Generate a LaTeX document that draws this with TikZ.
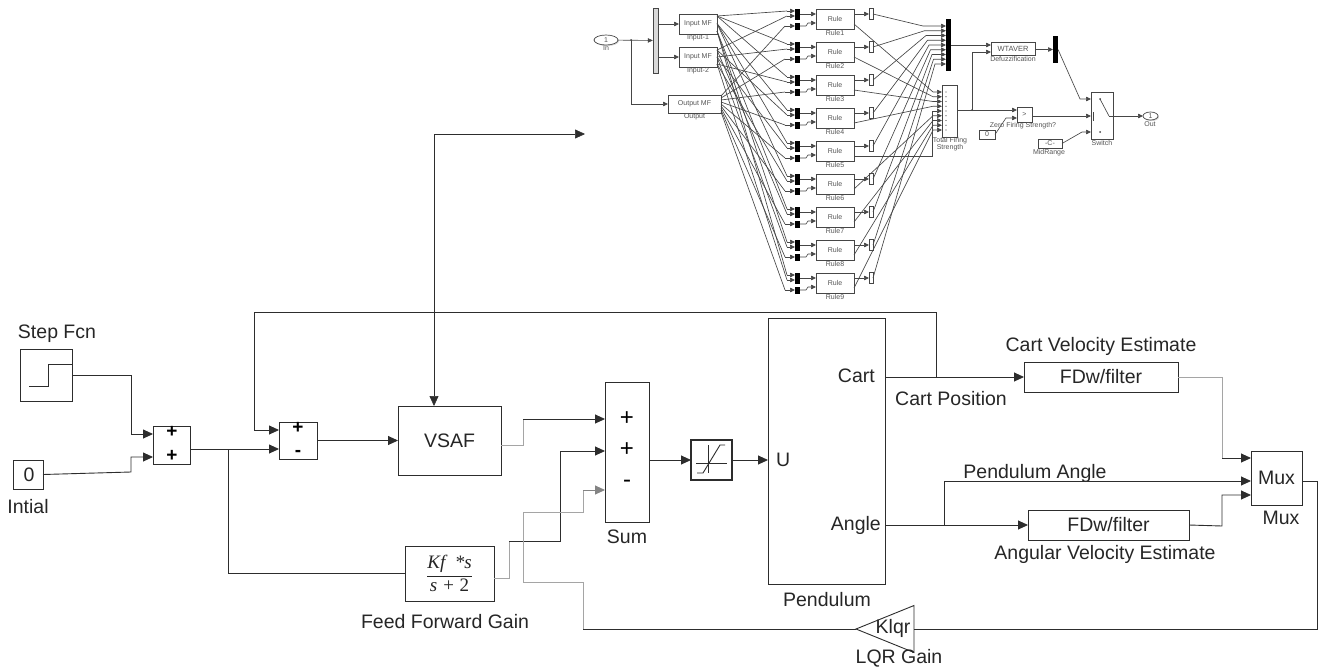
\documentclass[tikz,border=0pt]{standalone}
\usepackage{fontspec}
\setmainfont{Liberation Sans}
\newfontfamily\fracfont{Liberation Serif}
\usepackage{xcolor}
\usetikzlibrary{arrows.meta, shapes.geometric, shadows}
\definecolor{lineDark}{RGB}{45,45,45}
\definecolor{lineFaint}{RGB}{165,165,165}
\definecolor{fuzzyLine}{RGB}{70,70,70}
\definecolor{fuzzyText}{RGB}{85,85,85}

\begin{document}
\begin{tikzpicture}[
    x=1pt, y=-1pt,
    wh/.style 2 args={minimum width=#1pt, minimum height=#2pt},
    block/.style={rectangle, draw=lineDark, line width=0.9pt, fill=white, inner sep=0pt, outer sep=0pt, align=center, text=black!85, font=\fontsize{19.5}{22}\selectfont},
    caption/.style={inner sep=0pt, align=center, text=black!85, font=\fontsize{19.5}{22}\selectfont},
    signmark/.style={inner sep=0pt, font=\fontsize{19}{20}\selectfont\bfseries},
    arrow/.style={-{Triangle[length=10pt, width=9pt]}, line width=0.9pt, draw=lineDark},
    wire/.style={line width=0.9pt, draw=lineDark},
    faint/.style={line width=0.8pt, draw=lineFaint},
    % fuzzy subsystem
    fblock/.style={rectangle, draw=fuzzyLine, line width=0.7pt, fill=white, inner sep=0pt, outer sep=0pt, align=center, text=fuzzyText, font=\fontsize{7}{8}\selectfont, drop shadow={opacity=0.35, shadow xshift=1pt, shadow yshift=-1pt}},
    flabel/.style={inner sep=0pt, align=center, text=fuzzyText, font=\fontsize{7}{7.5}\selectfont},
    fbar/.style={rectangle, fill=black, inner sep=0pt, outer sep=0pt},
    farrow/.style={-{Triangle[length=5pt, width=4.5pt]}, line width=0.65pt, draw=fuzzyLine},
    fwire/.style={line width=0.65pt, draw=fuzzyLine}
]
    \useasboundingbox (0,0) rectangle (1328,672);

    % Fuzzy subsystem - inputs
    \node[fblock, ellipse, wh={24}{10}] (inport) at (606,40) {1};
    \node[flabel] (inlabel) at (606,48) {In};
    \node[rectangle, draw=fuzzyLine, fill=black!15, inner sep=0pt, wh={5}{65}] (inmux) at (655.5,40.5) {};
    \node[fblock, wh={38}{20}] (inputA) at (698,24) {Input MF};
    \node[flabel] (inputAlabel) at (698,38) {Input-1};
    \node[fblock, wh={38}{20}] (inputB) at (698,57) {Input MF};
    \node[flabel] (inputBlabel) at (698,71) {Input-2};
    \node[fblock, wh={53}{18}] (outputmf) at (694.5,104) {Output MF};
    \node[flabel] (outputlabel) at (694.5,117) {Output};
    \coordinate (injoin) at (631,40);
    \draw[farrow] (inport) -- (inmux);
    \draw[farrow] (injoin) |- (outputmf);
    \fill[fuzzyLine] (injoin) circle (1pt);
    \draw[farrow] (inmux.east |- inputA) -- (inputA);
    \draw[farrow] (inmux.east |- inputB) -- (inputB);

    % Fuzzy subsystem - collecting blocks
    \node[fbar, wh={5}{52}] (rulemux) at (948.5,45) {};
    \node[fblock, wh={15}{52}] (firing) at (949.5,111) {};
    \node[flabel] (firinglabel) at (950,144) {Total Firing\\Strength};
    \foreach \j in {1,...,3} {
        \coordinate (portA\j) at (717,{16+7.5*(\j-1)});
        \coordinate (portB\j) at (717,{50+7*(\j-1)});
    }

    % Fuzzy subsystem - rules
    \foreach \i in {1,...,9} {
        \pgfmathsetmacro{\ry}{19+33*(\i-1)}
        \pgfmathtruncatemacro{\ja}{int((\i-1)/3)+1}
        \pgfmathtruncatemacro{\jb}{mod(\i-1,3)+1}
        \node[fblock, wh={38}{20}] (rule\i) at (835,\ry) {Rule};
        \node[flabel] (rule\i label) at (835,\ry+14) {Rule\i};
        \node[fbar, wh={5}{11}] (muxA\i) at (797.5,\ry-4.5) {};
        \node[fbar, wh={5}{7}] (muxB\i) at (797.5,\ry+7) {};
        \node[draw=fuzzyLine, line width=0.5pt, fill=white, inner sep=0pt, outer sep=0pt, wh={4}{11}] (tap\i) at (871,\ry-5) {};
        \coordinate (ruleinA\i) at (816,\ry-5);
        \coordinate (ruleinB\i) at (816,\ry+4);
        \coordinate (ruleoutA\i) at (854,\ry-5);
        \coordinate (ruleoutB\i) at (854,\ry+5);
        % antecedents and consequent
        \draw[fwire] (portA\ja) -- (787,\ry-8);
        \draw[farrow] (787,\ry-8) -- (muxA\i.west |- 787,\ry-8);
        \draw[fwire] (portB\jb) -- (787,\ry-3);
        \draw[farrow] (787,\ry-3) -- (muxA\i.west |- 787,\ry-3);
        \draw[fwire] (721,{96+2*(\i-1)}) -- (785,\ry+7);
        \draw[farrow] (785,\ry+7) -- (muxB\i);
        \draw[farrow] (muxA\i.east |- ruleinA\i) -- (ruleinA\i);
        \draw[farrow] (muxB\i.east) -- ++(6,0) -- (808,\ry+4) -- (ruleinB\i);
        \draw[farrow] (ruleoutA\i) -- (tap\i);
        % towards the collecting blocks
        \draw[farrow] (tap\i.east) -- ({923+1.5*(\i-1)},{26+4.75*(\i-1)}) -- (946,{26+4.75*(\i-1)});
        \fill[fuzzyLine] (946,{92+4.75*(\i-1)}) circle (0.6pt);
        \ifnum\i=5
            \draw[farrow] (854,156) -| (932,111) -- (942,111);
        \else
            \draw[farrow] (ruleoutB\i) -- (933,{92+4.75*(\i-1)}) -- (942,{92+4.75*(\i-1)});
        \fi
    }

    % Fuzzy subsystem - output side
    \node[fblock, wh={44}{13}, font=\fontsize{7.5}{8}\selectfont] (wtaver) at (1013,48.5) {WTAVER};
    \node[flabel] (wtaverlabel) at (1013,59) {Defuzzification};
    \node[fbar, wh={5}{27}] (outmux) at (1055.5,49.5) {};
    \node[fblock, wh={15}{15}] (compare) at (1024.5,114.5) {>};
    \node[flabel] (comparelabel) at (1023,126) {Zero Firing Strength?};
    \node[fblock, wh={16}{9}] (zeroconst) at (987,134.5) {0};
    \node[fblock, wh={24}{9}] (midrange) at (1050,143.5) {-C-};
    \node[flabel] (midrangelabel) at (1049,153) {MidRange};
    \node[fblock, wh={22}{47}] (switch) at (1102,115.5) {};
    \node[flabel] (switchlabel) at (1102,143) {Switch};
    \node[fblock, ellipse, wh={15}{8}] (outport) at (1150.5,116) {1};
    \node[flabel] (outlabel) at (1150,124) {Out};
    \coordinate (firingjoin) at (972,110);
    \draw[farrow] (rulemux.east) -- (wtaver.west |- rulemux.east);
    \draw[fwire] (firing.east |- firingjoin) -- (firingjoin);
    \fill[fuzzyLine] (firingjoin) circle (1pt);
    \draw[farrow] (firingjoin) |- (wtaver.west |- 972,52);
    \draw[farrow] (firingjoin) -- (compare.west |- firingjoin);
    \draw[farrow] (zeroconst.east) -- (1006,118) -- (compare.west |- 1006,118);
    \draw[farrow] (wtaver.east |- outmux) -- (outmux);
    \draw[farrow] (outmux.east) -- (1080,99) -- (switch.west |- 1080,99);
    \draw[farrow] (compare.east |- 1032,116) -- (switch.west |- 1032,116);
    \draw[farrow] (midrange.east) -- (1082,132) -- (switch.west |- 1082,132);
    \draw[fwire] (1093,112) -- (1093,121);
    \fill[fuzzyLine] (1100,99) circle (1pt) (1100,132) circle (1pt);
    \draw[fwire] (1100,99) -- (1109,116);
    \draw[farrow] (1109,116) -- (outport);

    % Source blocks
    \node[block, wh={52}{52}] (stepfcn) at (46,375) {};
    \node[caption] (stepfcnlabel) at (57,334) {Step Fcn};
    \draw[wire] (29,386) -- (48,386) -- (48,364) -- (stepfcn.east |- 48,364);
    \node[block, wh={30}{29}] (initial) at (28,474.5) {\hspace*{2pt}0};
    \node[caption] (initiallabel) at (28,507) {Intial};

    % Summing blocks
    \node[block, wh={37.5}{38}] (sumA) at (172,445) {};
    \node[signmark] (sumAplusA) at (172,432) {+};
    \node[signmark] (sumAplusB) at (172,456) {+};
    \node[block, wh={38}{37}] (sumB) at (298,440.5) {};
    \node[signmark] (sumBplus) at (298,428) {+};
    \node[signmark] (sumBminus) at (298,453) {-};
    \node[block, wh={44}{140}] (sumC) at (627,452) {};
    \node[signmark, font=\fontsize{24}{24}\selectfont] (sumCplusA) at (627,419) {+};
    \node[signmark, font=\fontsize{24}{24}\selectfont] (sumCplusB) at (627,450) {+};
    \node[signmark, font=\fontsize{24}{24}\selectfont] (sumCminus) at (627,484) {-};
    \node[caption] (sumlabel) at (627,537) {Sum};

    % Forward path
    \node[block, wh={103}{69}] (vsaf) at (449.5,440.5) {VSAF};
    \node[block, wh={89}{55}] (feedforward) at (449.5,573.5) {\fontsize{19}{22}\selectfont$\displaystyle\frac{\hbox{\fracfont\itshape Kf\ \ *s}}{\hbox{\fracfont\itshape s + \upshape 2}}$};
    \node[caption] (feedforwardlabel) at (445,622) {Feed Forward Gain};
    \node[block, line width=1.5pt, wh={41}{40}] (saturation) at (711.5,460) {};
    \draw[wire] (697,473) -- (703,473) -- (720,445) -- (725,445);
    \draw[wire] (696,463) -- (727,463);
    \draw[wire] (708,445) -- (708,473);
    \node[block, wh={117}{266}] (pendulum) at (826.5,451) {};
    \node[caption] (pendulumlabel) at (827,600) {Pendulum};
    \node[caption, anchor=west] (ulabel) at (776,460) {U};
    \node[caption, anchor=east] (cartlabel) at (875,376) {Cart};
    \node[caption, anchor=east] (anglelabel) at (881,525) {Angle};

    % Estimators and feedback
    \node[block, wh={154}{30}] (filterA) at (1101,377) {FDw/filter};
    \node[caption] (filterAlabel) at (1101,346) {Cart Velocity Estimate};
    \node[caption] (cartposlabel) at (951,399) {Cart Position};
    \node[block, wh={161}{30}] (filterB) at (1108.5,525) {FDw/filter};
    \node[caption] (filterBlabel) at (1105,554) {Angular Velocity Estimate};
    \node[caption] (anglepathlabel) at (1035,473) {Pendulum Angle};
    \node[block, wh={51}{54}] (mux) at (1276.5,478) {Mux};
    \node[caption] (muxlabel) at (1281,518) {Mux};
    \node[block, isosceles triangle, shape border rotate=180, isosceles triangle apex angle=78, isosceles triangle stretches, wh={47}{58}, anchor=apex] (klqr) at (856,629) {};
    \node[caption] (klqrtext) at (893,628) {Klqr};
    \node[caption] (lqrlabel) at (899,658) {LQR Gain};

    % Named corners
    \coordinate (sumAinA) at (153,434);
    \coordinate (sumAinB) at (153,457);
    \coordinate (sumBinA) at (279,430);
    \coordinate (sumBinB) at (279,449);
    \coordinate (branchref) at (228,449);
    \coordinate (vsaftop) at (434,406);
    \coordinate (fuzzyend) at (585,134);
    \coordinate (sumCinA) at (605,419);
    \coordinate (sumCinB) at (605,451);
    \coordinate (sumCinC) at (605,490);
    \coordinate (cartref) at (936,377);
    \coordinate (angleref) at (944,525);
    \coordinate (muxinA) at (1251,458);
    \coordinate (muxinB) at (1251,481);
    \coordinate (muxinC) at (1251,495);

    % Arrows - sources to first sum
    \draw[arrow] (stepfcn.east) -- (131,375) |- (sumAinA);
    \draw[arrow] (initial.east) -- (131,472) -- (131,457) -- (sumAinB);

    % Arrows - reference and cart position feedback
    \draw[arrow] (sumA.east |- sumBinB) -- (sumBinB);
    \draw[wire] (branchref) |- (feedforward.west);
    \draw[arrow] (cartref) -- (936,312) -- (254,312) |- (sumBinA);
    \draw[arrow] (sumB.east) -- (vsaf.west);

    % Arrows - VSAF and fuzzy tuner
    \draw[{Triangle[length=10pt, width=9pt]}-{Triangle[length=10pt, width=9pt]}, line width=0.6pt, draw=lineDark] (vsaftop) |- (fuzzyend);

    % Arrows - into the main sum
    \draw[faint] (501,445) -- (523,445) -- (523,419);
    \draw[arrow] (523,419) -- (sumCinA);
    \draw[faint] (494,578) -- (509,578) -- (509,541);
    \draw[arrow] (509,541) -- (560,541) |- (sumCinB);
    \draw[faint] (klqr.apex -| 583,0) -- (583,582) -- (523,582) -- (523,512) -- (583,512) -- (583,490);
    \draw[arrow, draw=lineFaint!80!black] (583,490) -- (sumCinC);

    % Arrows - plant
    \draw[arrow] (sumC.east |- saturation) -- (saturation);
    \draw[arrow] (saturation) -- (pendulum.west |- saturation);
    \draw[arrow] (pendulum.east |- filterA) -- (filterA);
    \draw[arrow] (pendulum.east |- filterB) -- (filterB);
    \draw[arrow] (angleref) |- (muxinB);

    % Arrows - filters to Mux, Mux to gain
    \draw[faint] (filterA.east) -- (1222,377) -- (1222,458);
    \draw[arrow] (1222,458) -- (muxinA);
    \draw[arrow] (filterB.east) -- (1222,526) |- (muxinC);
    \draw[wire] (mux.east |- muxinB) -- (1317,481) |- (klqr.east);
    \draw[wire] (klqr.apex) -- (583,629);
\end{tikzpicture}
\end{document}
